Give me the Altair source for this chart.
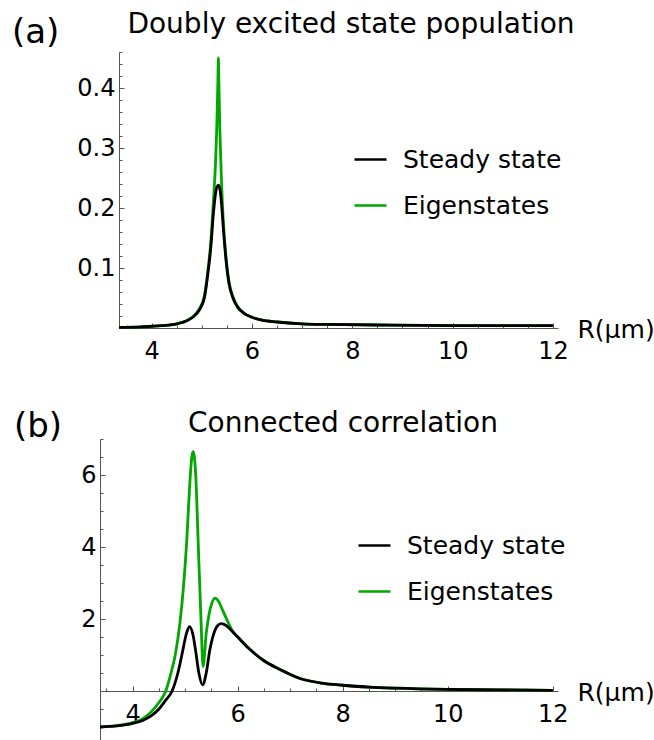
import altair as alt
import pandas as pd

FONT = "DejaVu Sans"
AXIS_GRAY = "#555555"

SERIES = ["Steady state", "Eigenstates"]
SERIES_COLORS = ["#000000", "#00a800"]

# ---- Panel (a): doubly excited state population vs R (um) ----
pop_steady_R = [3.35, 3.8, 4.2, 4.5, 4.7, 4.85, 4.95, 5.05, 5.12, 5.18, 5.23, 5.27, 5.30,
                5.33, 5.36, 5.39, 5.43, 5.48, 5.54, 5.62, 5.72, 5.85, 6.0, 6.2, 6.5, 7.0,
                7.5, 8.5, 10.0, 12.0]
pop_steady_v = [0.001, 0.002, 0.004, 0.007, 0.012, 0.02, 0.03, 0.05, 0.09, 0.135, 0.19, 0.222,
                0.235, 0.238, 0.232, 0.21, 0.165, 0.115, 0.075, 0.05, 0.034, 0.024, 0.018,
                0.013, 0.01, 0.007, 0.006, 0.005, 0.004, 0.004]

pop_eigen_R = [3.35, 3.8, 4.2, 4.5, 4.7, 4.85, 4.95, 5.05, 5.12, 5.18, 5.23, 5.27, 5.30, 5.32,
               5.33, 5.34, 5.36, 5.39, 5.43, 5.48, 5.54, 5.62, 5.72, 5.85, 6.0, 6.2, 6.5, 7.0,
               7.5, 8.5, 10.0, 12.0]
pop_eigen_v = [0.001, 0.002, 0.004, 0.007, 0.012, 0.021, 0.032, 0.053, 0.095, 0.145, 0.21, 0.27,
               0.34, 0.41, 0.45, 0.41, 0.33, 0.25, 0.175, 0.12, 0.078, 0.052, 0.035, 0.024,
               0.018, 0.013, 0.01, 0.007, 0.006, 0.005, 0.004, 0.004]

# ---- Panel (b): connected correlation vs R (um) ----
corr_steady_R = [3.377, 3.7, 4.0, 4.2, 4.35, 4.5, 4.62, 4.75, 4.86, 4.95, 5.02, 5.08, 5.15,
                 5.2, 5.26, 5.33, 5.4, 5.47, 5.55, 5.62, 5.69, 5.78, 5.9, 6.0, 6.2, 6.5, 6.8,
                 7.2, 7.6, 8.0, 8.5, 9.0, 10.0, 11.0, 12.0]
corr_steady_v = [-1.0, -0.97, -0.9, -0.81, -0.69, -0.5, -0.27, 0.0, 0.5, 1.1, 1.58, 1.79, 1.55,
                 1.1, 0.5, 0.17, 0.5, 1.15, 1.62, 1.82, 1.87, 1.82, 1.65, 1.5, 1.2, 0.84, 0.6,
                 0.34, 0.22, 0.16, 0.11, 0.08, 0.045, 0.03, 0.02]

corr_eigen_R = [3.377, 3.7, 4.0, 4.2, 4.35, 4.5, 4.63, 4.72, 4.81, 4.9, 4.97, 5.03, 5.07, 5.1,
                5.13, 5.15, 5.2, 5.25, 5.3, 5.34, 5.4, 5.45, 5.51, 5.57, 5.64, 5.72, 5.82,
                5.92, 6.0, 6.2, 6.5, 6.8, 7.2, 7.6, 8.0, 8.5, 9.0, 10.0, 11.0, 12.0]
corr_eigen_v = [-1.0, -0.96, -0.88, -0.76, -0.58, -0.32, 0.0, 0.45, 1.0, 1.9, 2.95, 4.2, 5.3,
                6.05, 6.55, 6.65, 6.0, 4.0, 2.0, 0.68, 1.6, 2.1, 2.45, 2.58, 2.48, 2.22, 1.9,
                1.62, 1.5, 1.2, 0.84, 0.6, 0.34, 0.22, 0.16, 0.11, 0.08, 0.045, 0.03, 0.02]

# ---- tick positions ----
r_major = [4, 6, 8, 10, 12]
r_minor = [3.5, 4.5, 5, 5.5, 6.5, 7, 7.5, 8.5, 9, 9.5, 10.5, 11, 11.5]
pop_major = [0.1, 0.2, 0.3, 0.4]
pop_minor = [0.02, 0.04, 0.06, 0.08, 0.12, 0.14, 0.16, 0.18, 0.22, 0.24, 0.26, 0.28,
             0.32, 0.34, 0.36, 0.38, 0.42, 0.44, 0.46]
corr_major = [2, 4, 6]
corr_minor = [-1, -0.5, 0.5, 1, 1.5, 2.5, 3, 3.5, 4.5, 5, 5.5, 6.5, 7]

H = 740


def frame(R, v, name):
    return pd.DataFrame({"R": R, "v": v, "series": name})


def x_axis(values, offset, major):
    kw = dict(orient="bottom", values=values, offset=offset, grid=False,
              tickColor=AXIS_GRAY, tickWidth=1, labelFlush=False)
    if major:
        kw.update(tickSize={"expr": "-5"}, domainColor=AXIS_GRAY, domainWidth=1,
                  labelFontSize=24, labelColor="black", labelPadding=16, labelFont=FONT,
                  format="d", title="R(μm)", titleX=577, titleY=9, titleAlign="left",
                  titleBaseline="alphabetic", titleAngle=0, titleFontSize=25,
                  titleFontWeight="normal", titleColor="black", titleFont=FONT)
    else:
        kw.update(tickSize={"expr": "-3"}, domain=False, labels=False, title="")
    return alt.Axis(**kw)


def y_axis(values, offset, major, fmt):
    kw = dict(orient="left", values=values, offset=offset, grid=False,
              tickColor=AXIS_GRAY, tickWidth=1, labelFlush=False, title="")
    if major:
        kw.update(tickSize={"expr": "-5"}, domainColor=AXIS_GRAY, domainWidth=1,
                  labelFontSize=24, labelColor="black", labelPadding=9, labelFont=FONT,
                  format=fmt)
    else:
        kw.update(tickSize={"expr": "-3"}, domain=False, labels=False)
    return alt.Axis(**kw)


def panel(df_eig, df_ss, xdom, xrange, ydom, yrange, y_major, y_minor, yfmt,
          x_axis_y, y_axis_x, legend_x, legend_y):
    xs = alt.Scale(domain=xdom, range=xrange, zero=False, nice=False)
    ys = alt.Scale(domain=ydom, range=yrange, zero=False, nice=False)
    color = alt.Color(
        "series:N",
        scale=alt.Scale(domain=SERIES, range=SERIES_COLORS),
        legend=alt.Legend(orient="none", legendX=legend_x, legendY=legend_y, title=None,
                          symbolType="stroke", symbolSize=1024, symbolStrokeWidth=2.6,
                          labelFontSize=25, labelFont=FONT, labelColor="black",
                          labelOffset=15, rowPadding=15, padding=0),
    )
    line = dict(strokeWidth=2.8, interpolate="monotone", clip=False)
    eig = alt.Chart(df_eig).mark_line(**line).encode(
        x=alt.X("R:Q", scale=xs, axis=x_axis(r_major, x_axis_y - H, True)),
        y=alt.Y("v:Q", scale=ys, axis=y_axis(y_major, -y_axis_x, True, yfmt)),
        color=color,
    )
    ss = alt.Chart(df_ss).mark_line(**line).encode(
        x=alt.X("R:Q", scale=xs, axis=x_axis(r_minor, x_axis_y - H, False)),
        y=alt.Y("v:Q", scale=ys, axis=y_axis(y_minor, -y_axis_x, False, yfmt)),
        color=color,
    )
    return alt.layer(eig, ss).resolve_axis(x="independent", y="independent")


panel_a = panel(frame(pop_eigen_R, pop_eigen_v, "Eigenstates"),
                frame(pop_steady_R, pop_steady_v, "Steady state"),
                [3.349, 12.1], [119, 558], [0, 0.46], [328, 52],
                pop_major, pop_minor, ".1f", 328, 119, 353, 142)

panel_b = panel(frame(corr_eigen_R, corr_eigen_v, "Eigenstates"),
                frame(corr_steady_R, corr_steady_v, "Steady state"),
                [3.377, 12.1], [100, 558], [-1.4, 7.0], [741.4, 439],
                corr_major, corr_minor, "d", 691, 100, 357, 528)


def label(text, x, y, size, align):
    return alt.Chart(alt.Data(values=[{}])).mark_text(
        text=text, fontSize=size, font=FONT, color="black", align=align,
        baseline="alphabetic",
    ).encode(x=alt.value(x), y=alt.value(y))


annotations = alt.layer(
    label("(a)", 12, 43, 34, "left"),
    label("Doubly excited state population", 351, 33, 28, "center"),
    label("(b)", 14, 437, 34, "left"),
    label("Connected correlation", 343, 432, 28, "center"),
)

chart = (
    alt.layer(panel_a, panel_b, annotations)
    .resolve_scale(x="independent", y="independent", color="independent")
    .properties(width=654, height=H, padding=0,
                autosize=alt.AutoSizeParams(type="none"))
    .configure(font=FONT)
    .configure_view(stroke=None)
)

chart.save("out.html", embed_options={"renderer": "svg", "actions": False})
